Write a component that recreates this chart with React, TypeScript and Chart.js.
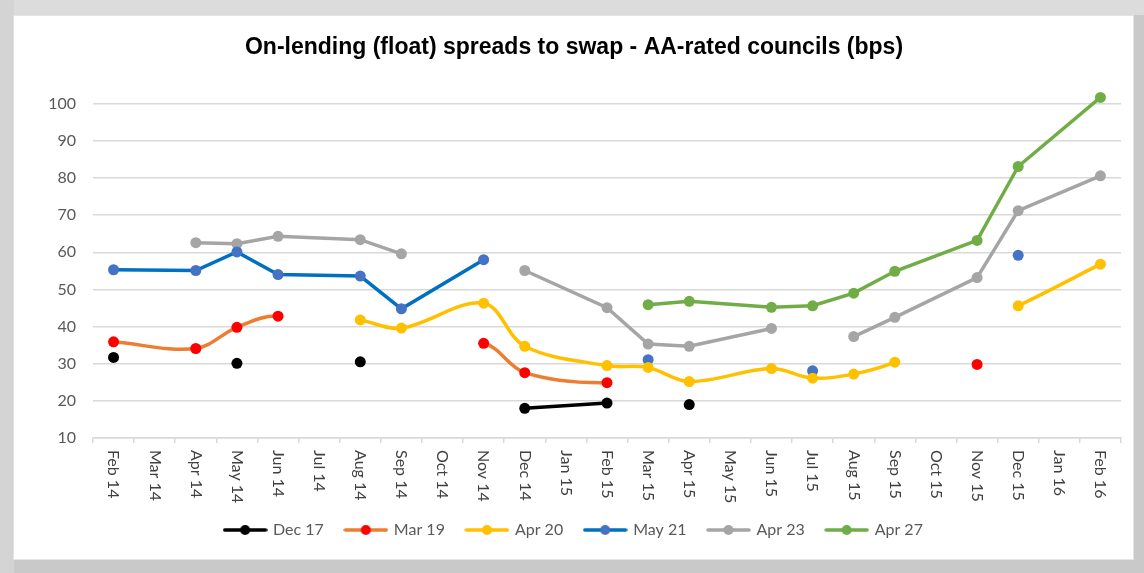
import React, { useEffect, useRef } from "react";
import { Chart, registerables } from "chart.js";

Chart.register(...registerables);

const categories = [
  "Feb 14", "Mar 14", "Apr 14", "May 14", "Jun 14", "Jul 14", "Aug 14", "Sep 14", "Oct 14",
  "Nov 14", "Dec 14", "Jan 15", "Feb 15", "Mar 15", "Apr 15", "May 15", "Jun 15", "Jul 15",
  "Aug 15", "Sep 15", "Oct 15", "Nov 15", "Dec 15", "Jan 16", "Feb 16",
];

// months with no row in the source table (lines are carried across these)
const noRowMonths = ["Mar 14", "Jul 14", "Oct 14", "Jan 15", "May 15", "Oct 15", "Jan 16"];

const dec17 = [31.7, null, null, 30.1, null, null, 30.5, null, null, null, 18.0, null, 19.4, null, 19.0, null, null, null, null, null, null, null, null, null, null];
const mar19 = [35.9, null, 34.1, 39.8, 42.8, null, null, null, null, 35.5, 27.6, null, 24.9, null, null, null, null, null, null, null, null, 29.8, null, null, null];
const apr20 = [null, null, null, null, null, null, 41.8, 39.6, null, 46.3, 34.7, null, 29.5, 29.0, 25.2, null, 28.7, 26.1, 27.2, 30.4, null, null, 45.6, null, 56.8];
const may21 = [55.3, null, 55.1, 60.1, 54.0, null, 53.6, 44.8, null, 58.0, null, null, null, 31.1, null, null, null, 28.1, null, null, null, null, 59.2, null, null];
const apr23 = [null, null, 62.6, 62.3, 64.3, null, 63.4, 59.6, null, null, 55.1, null, 45.1, 35.3, 34.7, null, 39.5, null, 37.3, 42.5, null, 53.2, 71.2, null, 80.6];
const apr27 = [null, null, null, null, null, null, null, null, null, null, null, null, null, 45.9, 46.8, null, 45.2, 45.6, 49.0, 54.9, null, 63.2, 83.1, null, 101.7];

const seriesNames = ["Dec 17", "Mar 19", "Apr 20", "May 21", "Apr 23", "Apr 27"];
const seriesValues: (number | null)[][] = [dec17, mar19, apr20, may21, apr23, apr27];
const lineColors = ["#000000", "#ED7D31", "#FFC000", "#0070C0", "#A5A5A5", "#70AD47"];
const pointColors = ["#000000", "#FF0000", "#FFC000", "#4472C4", "#A5A5A5", "#70AD47"];
const tensions = [0, 0.35, 0.35, 0, 0, 0];

const yTickValues = [10, 20, 30, 40, 50, 60, 70, 80, 90, 100];
const yRange = { min: 10, max: 103 };

const FONT = "Lato, 'Liberation Sans', sans-serif";
const TEXT_GREY = "#595959";
const X_TEXT = "#404040";
const GRID = "#d9d9d9";

function hasRowBetween(a: number, b: number) {
  for (let i = a + 1; i < b; i++) {
    if (!noRowMonths.includes(categories[i])) return true;
  }
  return false;
}

// a gap is bridged only when every empty month inside it has no source row
function gapHidden(ctx: any) {
  const vals = seriesValues[ctx.datasetIndex];
  let a = ctx.p0DataIndex;
  while (a > 0 && vals[a] == null) a--;
  let b = ctx.p1DataIndex;
  while (b < vals.length - 1 && vals[b] == null) b++;
  if (vals[a] == null || vals[b] == null) return false;
  return hasRowBetween(a, b);
}

function legendMarker(line: string, dot: string) {
  const c = document.createElement("canvas");
  c.width = 45;
  c.height = 12;
  const g = c.getContext("2d")!;
  g.strokeStyle = line;
  g.lineWidth = 3.5;
  g.lineCap = "round";
  g.beginPath();
  g.moveTo(2, 6);
  g.lineTo(43, 6);
  g.stroke();
  g.fillStyle = dot;
  g.beginPath();
  g.arc(22.5, 6, 5, 0, Math.PI * 2);
  g.fill();
  return c;
}

const rotatedXLabels = {
  id: "rotatedXLabels",
  afterDraw(chart: any) {
    const scale = chart.scales.x;
    const ctx = chart.ctx;
    ctx.save();
    ctx.fillStyle = X_TEXT;
    ctx.font = `16px ${FONT}`;
    ctx.textAlign = "left";
    ctx.textBaseline = "middle";
    categories.forEach((lab, i) => {
      const x = scale.getPixelForValue(i);
      const y = scale.top + 12;
      ctx.save();
      ctx.translate(x, y);
      ctx.rotate(Math.PI / 2);
      ctx.fillText(lab, 0, 0);
      ctx.restore();
    });
    ctx.restore();
  },
};

export default function App() {
  const ref = useRef<HTMLCanvasElement | null>(null);

  useEffect(() => {
    if (!ref.current) return;
    const markers = seriesNames.map((_, i) => legendMarker(lineColors[i], pointColors[i]));
    const chart = new Chart(ref.current, {
      type: "line",
      data: {
        labels: categories,
        datasets: seriesNames.map((name, i) => ({
          label: name,
          data: seriesValues[i],
          borderColor: lineColors[i],
          backgroundColor: pointColors[i],
          pointBackgroundColor: pointColors[i],
          pointBorderColor: pointColors[i],
          pointRadius: 5.5,
          pointBorderWidth: 0,
          borderWidth: 3.5,
          tension: tensions[i],
          spanGaps: true,
          clip: false as any,
          segment: {
            borderColor: (ctx: any) => (gapHidden(ctx) ? "rgba(0,0,0,0)" : undefined),
          },
        })),
      },
      options: {
        responsive: false,
        animation: false,
        layout: { padding: { left: 12, right: 11, top: 0, bottom: 10 } },
        plugins: {
          title: {
            display: true,
            text: "On-lending (float) spreads to swap - AA-rated councils (bps)",
            color: "#000000",
            font: { family: "'Liberation Sans', Arial, sans-serif", size: 23, weight: "bold", lineHeight: 1.2 },
            padding: { top: 17, bottom: 31 },
          },
          legend: {
            position: "bottom",
            labels: {
              color: TEXT_GREY,
              font: { family: FONT, size: 16 },
              usePointStyle: true,
              pointStyleWidth: 40,
              padding: 22,
              generateLabels: (ch: any) =>
                ch.data.datasets.map((ds: any, i: number) => ({
                  text: ds.label,
                  pointStyle: markers[i],
                  fillStyle: pointColors[i],
                  strokeStyle: lineColors[i],
                  lineWidth: 0,
                  hidden: false,
                  datasetIndex: i,
                  fontColor: TEXT_GREY,
                })),
            },
          },
          tooltip: { enabled: false },
        },
        scales: {
          x: {
            type: "category",
            offset: true,
            grid: {
              display: true,
              offset: true,
              drawOnChartArea: false,
              drawTicks: true,
              tickLength: 5,
              color: GRID,
              lineWidth: 1.5,
            },
            border: { display: true, color: GRID, width: 1.5 },
            ticks: { display: false },
            afterFit: (s: any) => {
              s.height = 62;
            },
          },
          y: {
            min: yRange.min,
            max: yRange.max,
            ticks: {
              color: TEXT_GREY,
              font: { family: FONT, size: 16 },
              padding: 17,
            },
            grid: { color: GRID, lineWidth: 1.5, drawTicks: false },
            border: { display: false },
            afterBuildTicks: (s: any) => {
              s.ticks = yTickValues.map((v) => ({ value: v }));
            },
            afterFit: (s: any) => {
              s.width = 66;
            },
          },
        },
      },
      plugins: [rotatedXLabels],
    });
    return () => chart.destroy();
  }, []);

  return (
    <div
      style={{
        position: "absolute",
        left: 0,
        top: 0,
        width: 1144,
        height: 573,
        background: "#c9c9c9",
        overflow: "hidden",
      }}
    >
      <div
        style={{
          position: "absolute",
          left: 0,
          top: 0,
          width: 1144,
          height: 15,
          background: "#dcdcdc",
        }}
      />
      <div
        style={{
          position: "absolute",
          left: 0,
          top: 0,
          width: 14,
          height: 573,
          background: "#d4d4d4",
        }}
      />
      <div
        style={{
          position: "absolute",
          left: 14,
          top: 16,
          width: 1119,
          height: 543,
          background: "#ffffff",
          boxShadow: "0 0 0 1px #e4e4e4",
        }}
      >
        <canvas
          ref={ref}
          width={1117}
          height={541}
          style={{ position: "absolute", left: 1, top: 1, width: 1117, height: 541 }}
        />
      </div>
    </div>
  );
}
